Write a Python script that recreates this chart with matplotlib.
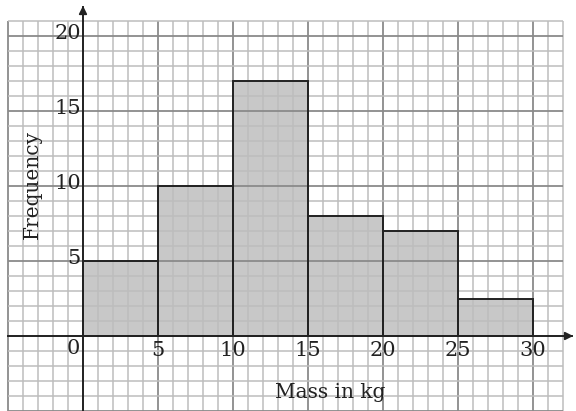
import matplotlib
matplotlib.use("Agg")
import matplotlib.pyplot as plt
import numpy as np

# Data
bin_edges = [0, 5, 10, 15, 20, 25, 30]
frequencies = [5, 10, 17, 8, 7, 2.5]
x_tick_values = [0, 5, 10, 15, 20, 25, 30]
x_tick_labels = ["0", "5", "10", "15", "20", "25", "30"]
y_tick_values = [5, 10, 15, 20]
y_tick_labels = ["5", "10", "15", "20"]

fig = plt.figure(figsize=(5.76, 4.11), dpi=100)
ax = fig.add_axes([0, 0, 1, 1])
ax.set_xlim(-5.533, 32.87)
ax.set_ylim(-5.0, 22.4)
ax.axis("off")

gx0, gx1 = -5, 32
gy0, gy1 = -5, 21

# grid paper
minor_c = "#bdbdbd"
major_c = "#8a8a8a"
for xv in range(gx0, gx1 + 1):
    major = (xv % 5 == 0)
    ax.plot([xv, xv], [gy0, gy1], color=major_c if major else minor_c,
            lw=1.3 if major else 1.1, zorder=2, solid_capstyle="butt")
for yv in range(gy0, gy1 + 1):
    major = (yv % 5 == 0)
    ax.plot([gx0, gx1], [yv, yv], color=major_c if major else minor_c,
            lw=1.3 if major else 1.1, zorder=2, solid_capstyle="butt")

# bars (fill below grid, outline above)
lefts = bin_edges[:-1]
widths = np.diff(bin_edges)
ax.bar(lefts, frequencies, width=widths, align="edge", color="#c8c8c8",
       edgecolor="none", zorder=1)
ax.bar(lefts, frequencies, width=widths, align="edge", color="none",
       edgecolor="#222222", linewidth=1.4, zorder=4)

# axes with arrows
ax.plot([0, 0], [gy0, 21.9], color="#222222", lw=1.4, zorder=5)
ax.plot([gx0, 32.6], [0, 0], color="#222222", lw=1.4, zorder=5)
ax.annotate("", xy=(0, 22.2), xytext=(0, 21.2),
            arrowprops=dict(arrowstyle="-|>", color="#222222", lw=1.2,
                            mutation_scale=12), zorder=6)
ax.annotate("", xy=(32.87, 0), xytext=(31.9, 0),
            arrowprops=dict(arrowstyle="-|>", color="#222222", lw=1.2,
                            mutation_scale=12), zorder=6)

font = dict(family="DejaVu Serif", color="#222222")

for v, lab in zip(y_tick_values, y_tick_labels):
    ax.text(-0.15, v + 0.15, lab, ha="right", va="center",
            fontsize=15, zorder=7, **font)
for v, lab in zip(x_tick_values, x_tick_labels):
    if v == 0:
        ax.text(-0.2, -0.85, lab, ha="right", va="center", fontsize=15, zorder=7, **font)
    else:
        ax.text(v, -0.95, lab, ha="center", va="center", fontsize=15, zorder=7, **font)

ax.text(16.5, -3.75, "Mass in kg", ha="center", va="center", fontsize=14.5, zorder=7, **font)
ax.text(-3.4, 10.1, "Frequency", ha="center", va="center", rotation=90,
        fontsize=14.5, zorder=7, **font)

fig.savefig("out.png", dpi=100)
